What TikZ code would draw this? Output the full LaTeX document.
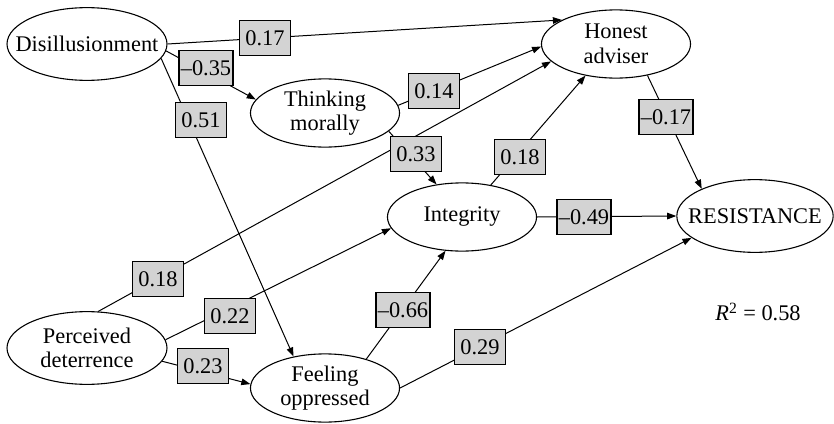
\documentclass[tikz,border=0pt]{standalone}
\usepackage{fontspec}
\setmainfont{Liberation Serif}
\usetikzlibrary{shapes.geometric, arrows.meta}

\begin{document}
\begin{tikzpicture}[
    x=0.55pt, y=-0.55pt,
    font=\fontsize{12.3}{13.5}\selectfont,
    var/.style={draw, ellipse, line width=0.6pt, inner sep=0pt, minimum width=82pt, minimum height=37.5pt},
    widevar/.style={var, minimum width=88pt, minimum height=40pt},
    coef/.style={draw, fill=boxgray, line width=0.7pt, inner sep=1pt, minimum width=28pt, minimum height=19pt},
    arrow/.style={line width=0.55pt, -{Triangle[length=5pt, width=3.6pt]}}
]

% Colors
\definecolor{boxgray}{RGB}{211, 211, 211} % coefficient boxes

\useasboundingbox (0,0) rectangle (834,424);

% Nodes
\node (dis) [widevar, label={center:Disillusionment}] at (87,44) {};
\node (think) [var, label={[align=center]center:Thinking\\morally}] at (325,113) {};
\node (honest) [var, label={[align=center]center:Honest\\adviser}] at (616,44) {};
\node (integ) [var, label={center:Integrity}] at (462,217) {};
\node (resist) [widevar, minimum width=86pt, label={center:RESISTANCE}] at (755,216) {};
\node (perc) [widevar, label={[align=center]center:Perceived\\deterrence}] at (87,348) {};
\node (feel) [var, label={[align=center]center:Feeling\\oppressed}] at (325,388) {};

\node (rsq) at (758,312) {\textit{R}\textsuperscript{2} = 0.58};

% Edges
\draw[arrow] (dis.east) -- (honest.156);
\draw[arrow] (dis.355) -- (think.169);
\draw[arrow] (dis.349) -- (feel.135);
\draw[arrow] (think.6) -- (honest.182);
\draw[arrow] (think.344) -- (integ.128);
\draw[arrow] (perc.73) -- (honest.195);
\draw[arrow] (perc.6) -- (integ.189);
\draw[arrow] (perc.350) -- (feel.177);
\draw[arrow] (feel.35) -- (integ.244);
\draw[arrow] (feel.east) -- (resist.199);
\draw[arrow] (integ.48) -- (honest.226);
\draw[arrow] (integ.east) -- (resist.west);
\draw[arrow] (honest.315) -- (resist.153);

% Coefficients
\node (c_dh) [coef] at (265,38) {0.17};
\node (c_dt) [coef] at (206,68) {--0.35};
\node (c_df) [coef] at (201,120) {0.51};
\node (c_th) [coef] at (434,91) {0.14};
\node (c_ti) [coef] at (416,154) {0.33};
\node (c_ih) [coef] at (520,157) {0.18};
\node (c_hr) [coef] at (666,117) {--0.17};
\node (c_ir) [coef] at (584,217) {--0.49};
\node (c_ph) [coef] at (158,279) {0.18};
\node (c_pi) [coef] at (230,316) {0.22};
\node (c_pf) [coef] at (203,366) {0.23};
\node (c_fi) [coef] at (403,310) {--0.66};
\node (c_fr) [coef] at (480,347) {0.29};

\end{tikzpicture}
\end{document}
